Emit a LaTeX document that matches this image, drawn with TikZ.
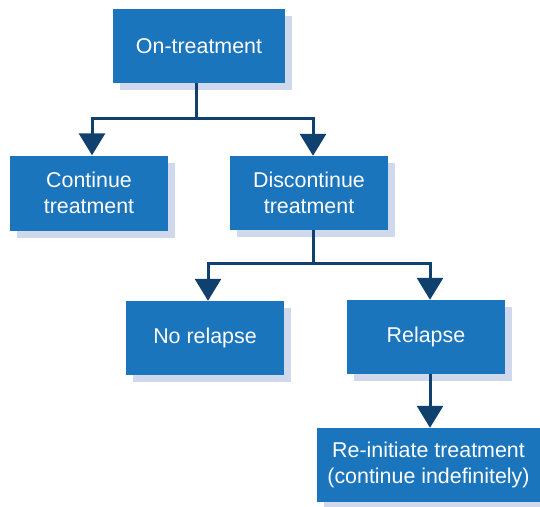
\documentclass[tikz,border=0pt]{standalone}
\usepackage{fontspec}
\setmainfont{Liberation Sans}
\usetikzlibrary{arrows.meta,shadows}

\definecolor{boxblue}{RGB}{27,117,188}
\definecolor{shadowblue}{RGB}{208,216,238}
\definecolor{linenavy}{RGB}{16,64,110}

\begin{document}
\begin{tikzpicture}[x=1pt, y=-1pt,
		stepbox/.style={fill=boxblue, text=white, align=center, inner sep=0pt,
			minimum width=158pt, minimum height=74pt,
			font=\fontsize{21.4}{26}\selectfont,
			drop shadow={shadow xshift=7pt, shadow yshift=-7pt, fill=shadowblue, opacity=1}},
		link/.style={draw=linenavy, line width=3pt},
		arr/.style={link, -{Triangle[width=26pt, length=22pt]}}]
		\useasboundingbox (0, 0) rectangle (540, 506);

		\node[stepbox, minimum width=172pt] (ontreat) at (199, 46) {On-treatment};
		\node[stepbox, minimum height=75pt] (cont) at (89, 193) {Continue\\treatment};
		\node[stepbox] (discont) at (309, 193) {Discontinue\\treatment};
		\node[stepbox] (norel) at (205, 338) {No relapse};
		\node[stepbox] (rel) at (426, 337) {Relapse};
		\node[stepbox, minimum width=223pt] (reinit) at (428.5, 465) {Re-initiate treatment\\(continue indefinitely)};

		\coordinate (split1) at (196, 118);
		\coordinate (split2) at (313, 263);

		% first branch
		\draw[link] ([xshift=-3pt]ontreat.south) -- (split1);
		\draw[arr] (split1) -| ([xshift=3pt]cont.north);
		\draw[arr] (split1) -| ([xshift=4pt]discont.north);

		% second branch
		\draw[link] ([xshift=4pt]discont.south) -- (split2);
		\draw[arr] (split2) -| ([xshift=3pt]norel.north);
		\draw[arr] (split2) -| ([xshift=4pt]rel.north);
		\draw[arr] ([xshift=4pt]rel.south) -- ([xshift=1.5pt]reinit.north);
	\end{tikzpicture}
\end{document}
